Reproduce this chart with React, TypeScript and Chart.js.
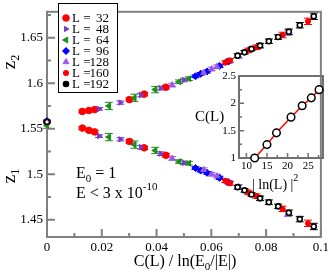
import React, { useEffect, useRef } from 'react';
import { Chart, registerables } from 'chart.js';
Chart.register(...registerables);

const FONT = '"Liberation Serif", "DejaVu Serif", serif';

// ---- main axes ticks
const xMajor = [0, 0.02, 0.04, 0.06, 0.08, 0.1];
const xMinor = [0.01, 0.03, 0.05, 0.07, 0.09];
const yMajor = [1.45, 1.5, 1.55, 1.6, 1.65];
const yMinor = [1.475, 1.525, 1.575, 1.625, 1.675];

// ---- series data (x = C(L)/ln(E0/|E|), z2 upper, z1 lower, error)
const L32_x = [0.0129, 0.0153, 0.0174, 0.0301, 0.0355, 0.0434];
const L32_z2 = [1.569, 1.570, 1.571, 1.582, 1.588, 1.5956];
const L32_z1 = [1.5507, 1.5482, 1.5465, 1.536, 1.529, 1.5208];
const L32_err = [0.0015, 0.0015, 0.0015, 0.0018, 0.0018, 0.002];

const L48_x = [0.019, 0.0268, 0.0343, 0.0415, 0.05];
const L48_z2 = [1.5718, 1.5787, 1.587, 1.5946, 1.6035];
const L48_z1 = [1.5419, 1.5384, 1.5297, 1.5226, 1.5125];
const L48_err = [0.0015, 0.0018, 0.002, 0.002, 0.002];

const L64_x = [0.0226, 0.0319, 0.0395, 0.0482, 0.0518];
const L64_z2 = [1.575, 1.584, 1.593, 1.6016, 1.605];
const L64_z1 = [1.5408, 1.5325, 1.5261, 1.5139, 1.5121];
const L64_err = [0.004, 0.004, 0.0035, 0.002, 0.002];

const L96_x = [0.0542, 0.0561, 0.0584, 0.063, 0.0663];
const L96_z2 = [1.6076, 1.6103, 1.6128, 1.619, 1.624];
const L96_z1 = [1.5068, 1.504, 1.5016, 1.496, 1.491];
const L96_err = [0.0015, 0.0015, 0.0015, 0.0018, 0.0018];

const L128_x = [0.0457, 0.0572, 0.0601, 0.0621, 0.07, 0.088];
const L128_z2 = [1.598, 1.6115, 1.6156, 1.618, 1.63, 1.6555];
const L128_z1 = [1.5174, 1.505, 1.5, 1.498, 1.486, 1.4565];
const L128_err = [0.002, 0.002, 0.002, 0.002, 0.0025, 0.003];

const L160_x = [0.0651, 0.0668, 0.0735, 0.0765, 0.086, 0.0953];
const L160_z2 = [1.6226, 1.625, 1.636, 1.6395, 1.653, 1.668];
const L160_z1 = [1.4928, 1.49, 1.48, 1.476, 1.462, 1.4461];
const L160_err = [0.002, 0.002, 0.0025, 0.0025, 0.003, 0.0035];

const L192_x = [0.0696, 0.0721, 0.0747, 0.0778, 0.081, 0.0844, 0.0883, 0.0923, 0.0974];
const L192_z2 = [1.6303, 1.6339, 1.6377, 1.6413, 1.6461, 1.6507, 1.6566, 1.6637, 1.6735];
const L192_z1 = [1.4858, 1.4823, 1.4777, 1.4735, 1.4693, 1.4647, 1.4577, 1.4507, 1.4426];
const L192_err = [0.002, 0.002, 0.002, 0.0025, 0.0025, 0.0025, 0.003, 0.003, 0.0035];

// extrapolated values at x = 0
const z0Sizes = [32, 64, 96, 192];
const z0Values = [1.5575, 1.5535, 1.5585, 1.5575];
const z0Errs = [0.001, 0.003, 0.001, 0.001];

// ---- inset data
const insetX = [12.01, 14.99, 17.3, 20.83, 23.54, 25.76, 27.64];
const insetCL = [1.0, 1.245, 1.46, 1.747, 1.955, 2.1, 2.25];
const insetXMajor = [10, 15, 20, 25];
const insetXMinor = [12.5, 17.5, 22.5, 27.5];
const insetYMajor = [1, 1.5, 2, 2.5];
const insetYMinor = [1.25, 1.75, 2.25];

const series = [
  { L: 32, x: L32_x, z1: L32_z1, z2: L32_z2, err: L32_err },
  { L: 48, x: L48_x, z1: L48_z1, z2: L48_z2, err: L48_err },
  { L: 64, x: L64_x, z1: L64_z1, z2: L64_z2, err: L64_err },
  { L: 96, x: L96_x, z1: L96_z1, z2: L96_z2, err: L96_err },
  { L: 128, x: L128_x, z1: L128_z1, z2: L128_z2, err: L128_err },
  { L: 160, x: L160_x, z1: L160_z1, z2: L160_z2, err: L160_err },
  { L: 192, x: L192_x, z1: L192_z1, z2: L192_z2, err: L192_err },
];

const styles = [
  { color: '#ff0000', fill: '#ff0000', legendFill: '#ff0000', style: 'circle', rot: 0, r: 3.3, lw: 1 },
  { color: '#7a3cc8', fill: '#7a3cc8', legendFill: '#7a3cc8', style: 'triangle', rot: 90, r: 3, lw: 1 },
  { color: '#1e8c1e', fill: '#1e8c1e', legendFill: '#1e8c1e', style: 'triangle', rot: -90, r: 3.4, lw: 1 },
  { color: '#0000ff', fill: '#0000ff', legendFill: '#0000ff', style: 'rectRot', rot: 0, r: 3.5, lw: 1 },
  { color: '#9b59e6', fill: '#9b59e6', legendFill: '#9b59e6', style: 'triangle', rot: 0, r: 3.4, lw: 1 },
  { color: '#ff0000', fill: '#ff0000', legendFill: '#ff0000', style: 'circle', rot: 0, r: 2.6, lw: 1 },
  { color: '#000000', fill: '#ffffff', legendFill: '#000000', style: 'circle', rot: 0, r: 2.5, lw: 1.6 },
];

const fmt = (v: number) => String(parseFloat(Number(v).toFixed(4)));

function drawMarker(ctx: CanvasRenderingContext2D, style: string, x: number, y: number, r: number, rot: number, fill: string, stroke: string, lw: number) {
  ctx.save();
  ctx.translate(x, y);
  ctx.rotate((rot * Math.PI) / 180);
  ctx.beginPath();
  if (style === 'circle') ctx.arc(0, 0, r, 0, Math.PI * 2);
  else if (style === 'triangle') {
    ctx.moveTo(0, -r);
    ctx.lineTo(r * 0.866, r * 0.5);
    ctx.lineTo(-r * 0.866, r * 0.5);
    ctx.closePath();
  } else {
    ctx.moveTo(0, -r);
    ctx.lineTo(r, 0);
    ctx.lineTo(0, r);
    ctx.lineTo(-r, 0);
    ctx.closePath();
  }
  ctx.fillStyle = fill;
  ctx.fill();
  ctx.lineWidth = lw;
  ctx.strokeStyle = stroke;
  ctx.stroke();
  ctx.restore();
}

type Part = { t: string; s: number; dy?: number };
function richWidth(ctx: CanvasRenderingContext2D, parts: Part[]) {
  let w = 0;
  parts.forEach((p) => {
    ctx.font = `${p.s}px ${FONT}`;
    w += ctx.measureText(p.t).width;
  });
  return w;
}
function drawRich(ctx: CanvasRenderingContext2D, parts: Part[], x: number, y: number, align: 'left' | 'center' = 'left') {
  let cx = x;
  if (align === 'center') cx = x - richWidth(ctx, parts) / 2;
  ctx.textAlign = 'left';
  ctx.textBaseline = 'alphabetic';
  ctx.fillStyle = '#000';
  parts.forEach((p) => {
    ctx.font = `${p.s}px ${FONT}`;
    ctx.fillText(p.t, cx, y + (p.dy || 0));
    cx += ctx.measureText(p.t).width;
  });
}

function drawFrameTicks(chart: any, xMaj: number[], xMin: number[], yMaj: number[], yMin: number[], maj: number, min: number, color: string, lw: number) {
  const { ctx, chartArea: a } = chart;
  const xs = chart.scales.x;
  const ys = chart.scales.y;
  ctx.save();
  ctx.strokeStyle = color;
  ctx.lineWidth = lw;
  ctx.beginPath();
  xMaj.forEach((v) => { const p = xs.getPixelForValue(v); ctx.moveTo(p, a.bottom); ctx.lineTo(p, a.bottom - maj); });
  xMin.forEach((v) => { const p = xs.getPixelForValue(v); ctx.moveTo(p, a.bottom); ctx.lineTo(p, a.bottom - min); });
  yMaj.forEach((v) => { const p = ys.getPixelForValue(v); ctx.moveTo(a.left, p); ctx.lineTo(a.left + maj, p); });
  yMin.forEach((v) => { const p = ys.getPixelForValue(v); ctx.moveTo(a.left, p); ctx.lineTo(a.left + min, p); });
  ctx.stroke();
  ctx.lineWidth = 2;
  ctx.strokeRect(a.left, a.top, a.right - a.left, a.bottom - a.top);
  ctx.restore();
}

const errorBarPlugin = {
  id: 'errbars',
  beforeDatasetsDraw(chart: any) {
    const ctx = chart.ctx;
    const ys = chart.scales.y;
    chart.data.datasets.forEach((ds: any, di: number) => {
      if (!ds.errs) return;
      const meta = chart.getDatasetMeta(di);
      ctx.save();
      ctx.strokeStyle = ds.errColor;
      ctx.lineWidth = 1;
      ctx.beginPath();
      meta.data.forEach((el: any, i: number) => {
        const e = ds.errs[i];
        if (!e) return;
        const v = ds.data[i].y;
        const px = el.x;
        const y1 = ys.getPixelForValue(v + e);
        const y2 = ys.getPixelForValue(v - e);
        ctx.moveTo(px, y1); ctx.lineTo(px, y2);
        ctx.moveTo(px - 4, y1); ctx.lineTo(px + 4, y1);
        ctx.moveTo(px - 4, y2); ctx.lineTo(px + 4, y2);
      });
      ctx.stroke();
      ctx.restore();
    });
  },
};

const mainDecor = {
  id: 'mainDecor',
  beforeDatasetsDraw(chart: any) {
    drawFrameTicks(chart, xMajor, xMinor, yMajor, yMinor, 8, 4, '#808080', 2);
  },
  afterDraw(chart: any) {
    const ctx = chart.ctx as CanvasRenderingContext2D;
    // legend
    ctx.save();
    ctx.fillStyle = '#fff';
    ctx.fillRect(58, 3, 59, 89);
    ctx.strokeStyle = '#000';
    ctx.lineWidth = 1;
    ctx.strokeRect(58.5, 3.5, 59, 89);
    series.forEach((s, i) => {
      const st = styles[i];
      const y = 18 + i * 11;
      drawMarker(ctx, st.style, 66, y, st.r, st.rot, st.legendFill, st.color, st.lw);
      ctx.font = `13px ${FONT}`;
      ctx.fillStyle = '#000';
      ctx.textBaseline = 'middle';
      ctx.textAlign = 'left';
      ctx.fillText('L =', 72, y + 0.5);
      ctx.textAlign = 'right';
      ctx.fillText(String(s.L), 109, y + 0.5);
    });
    ctx.restore();

    // axis titles
    ctx.save();
    drawRich(ctx, [{ t: 'C(L) / ln(E', s: 16 }, { t: '0', s: 11, dy: 4 }, { t: '/|E|)', s: 16 }], 185, 266, 'center');
    ctx.translate(15, 62);
    ctx.rotate(-Math.PI / 2);
    drawRich(ctx, [{ t: 'z', s: 19 }, { t: '2', s: 12, dy: 4 }], 0, 0, 'center');
    ctx.restore();
    ctx.save();
    ctx.translate(15, 176);
    ctx.rotate(-Math.PI / 2);
    drawRich(ctx, [{ t: 'z', s: 19 }, { t: '1', s: 12, dy: 4 }], 0, 0, 'center');
    ctx.restore();

    // annotations
    drawRich(ctx, [{ t: 'E', s: 16 }, { t: '0', s: 11, dy: 4 }, { t: ' = 1', s: 16 }], 76, 178);
    drawRich(ctx, [{ t: 'E < 3 x 10', s: 16 }, { t: '-10', s: 11, dy: -8 }], 76, 198);

    // inset labels
    drawRich(ctx, [{ t: 'C(L)', s: 15 }], 195, 121);
    drawRich(ctx, [{ t: '| ln(L) |', s: 14 }, { t: '2', s: 10, dy: -8 }], 252, 189);
  },
};

const insetDecor = {
  id: 'insetDecor',
  beforeDatasetsDraw(chart: any) {
    drawFrameTicks(chart, insetXMajor, insetXMinor, insetYMajor, insetYMinor, 5, 3, '#707070', 1.5);
  },
};

function buildMainDatasets() {
  return series.map((s, i) => {
    const st = styles[i];
    const pts: { x: number; y: number }[] = [];
    const errs: number[] = [];
    s.x.forEach((x, k) => { pts.push({ x, y: s.z2[k] }); errs.push(s.err[k]); });
    s.x.forEach((x, k) => { pts.push({ x, y: s.z1[k] }); errs.push(s.err[k]); });
    const j = z0Sizes.indexOf(s.L);
    if (j >= 0) { pts.push({ x: 0, y: z0Values[j] }); errs.push(z0Errs[j]); }
    return {
      label: `L = ${s.L}`,
      data: pts,
      errs,
      errColor: st.color,
      pointStyle: st.style,
      pointRotation: st.rot,
      pointRadius: st.r,
      pointBackgroundColor: st.fill,
      pointBorderColor: st.color,
      pointBorderWidth: st.lw,
      showLine: false,
      clip: false,
      order: series.length - i,
    } as any;
  });
}

export default function App() {
  const mainRef = useRef<HTMLCanvasElement>(null);
  const insetRef = useRef<HTMLCanvasElement>(null);

  useEffect(() => {
    const tickFont = { family: FONT, size: 13 };
    const main = new Chart(mainRef.current!, {
      type: 'scatter',
      data: { datasets: buildMainDatasets() },
      options: {
        animation: false,
        responsive: false,
        events: [],
        layout: { padding: { top: 2, right: 9, left: 0, bottom: 0 } },
        plugins: { legend: { display: false }, tooltip: { enabled: false } },
        scales: {
          x: {
            type: 'linear', min: 0, max: 0.1,
            grid: { display: false, drawTicks: false }, border: { display: false },
            ticks: { font: tickFont, color: '#000', padding: 3, autoSkip: false, maxRotation: 0, callback: (v: any) => fmt(v) },
            afterBuildTicks: (s: any) => { s.ticks = xMajor.map((v) => ({ value: v })); },
            afterFit: (s: any) => { s.height = 37; },
          },
          y: {
            type: 'linear', min: 1.43105, max: 1.67845,
            grid: { display: false, drawTicks: false }, border: { display: false },
            ticks: { font: tickFont, color: '#000', padding: 4, autoSkip: false, callback: (v: any) => fmt(v) },
            afterBuildTicks: (s: any) => { s.ticks = yMajor.map((v) => ({ value: v })); },
            afterFit: (s: any) => { s.width = 47; },
          },
        },
      } as any,
      plugins: [errorBarPlugin, mainDecor],
    });

    const insetPts = insetX.map((x, i) => ({ x, y: insetCL[i] }));
    const insetFont = { family: FONT, size: 11 };
    const inset = new Chart(insetRef.current!, {
      type: 'scatter',
      data: {
        datasets: [
          { data: insetPts, showLine: true, borderColor: '#ff0000', borderWidth: 1.5, pointRadius: 0, order: 2, clip: false } as any,
          { data: insetPts, showLine: false, pointRadius: 3.8, pointBackgroundColor: '#ffffff', pointBorderColor: '#000000', pointBorderWidth: 1.5, order: 1, clip: false } as any,
        ],
      },
      options: {
        animation: false,
        responsive: false,
        events: [],
        layout: { padding: { top: 76, right: 9, left: 200, bottom: 96 } },
        plugins: { legend: { display: false }, tooltip: { enabled: false } },
        scales: {
          x: {
            type: 'linear', min: 8.2, max: 28.6,
            grid: { display: false, drawTicks: false }, border: { display: false },
            ticks: { font: insetFont, color: '#000', padding: 2, autoSkip: false, maxRotation: 0, callback: (v: any) => fmt(v) },
            afterBuildTicks: (s: any) => { s.ticks = insetXMajor.map((v) => ({ value: v })); },
            afterFit: (s: any) => { s.height = 20; },
          },
          y: {
            type: 'linear', min: 1, max: 2.5,
            grid: { display: false, drawTicks: false }, border: { display: false },
            ticks: { font: insetFont, color: '#000', padding: 3, autoSkip: false, callback: (v: any) => fmt(v) },
            afterBuildTicks: (s: any) => { s.ticks = insetYMajor.map((v) => ({ value: v })); },
            afterFit: (s: any) => { s.width = 39; },
          },
        },
      } as any,
      plugins: [insetDecor],
    });

    return () => {
      main.destroy();
      inset.destroy();
    };
  }, []);

  return (
    <div style={{ position: 'fixed', left: 0, top: 0, width: 332, height: 274, background: '#fff' }}>
      <canvas ref={mainRef} width={332} height={274} style={{ position: 'absolute', left: 0, top: 0 }} />
      <canvas ref={insetRef} width={332} height={274} style={{ position: 'absolute', left: 0, top: 0 }} />
    </div>
  );
}
